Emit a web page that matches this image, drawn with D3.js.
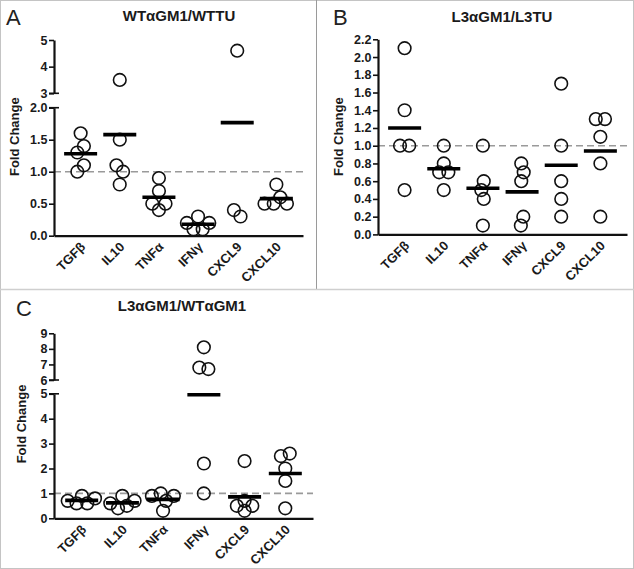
<!DOCTYPE html>
<html><head><meta charset="utf-8">
<script src="https://cdn.jsdelivr.net/npm/d3@7"></script>
<style>
body{margin:0;background:#fff}
svg{display:block}
text{font-family:"Liberation Sans",Arial,Helvetica,sans-serif}
</style>
</head><body>
<svg id="chart" width="634" height="569"></svg>
<script>
// ---------- data ----------
const categories = ["TGFβ","IL10","TNFα","IFNγ","CXCL9","CXCL10"];
const valuesA = [
  [1.4,1.6,1.3,1.1,1.0],
  [3.5,1.5,1.1,1.0,0.8],
  [0.9,0.7,0.5,0.5,0.4],
  [0.3,0.2,0.2,0.1,0.1],
  [4.6,0.3,0.4],
  [0.8,0.6,0.5,0.5,0.5]
];
const valuesB = [
  [2.1,1.4,1.0,1.0,0.5],
  [1.0,0.8,0.7,0.7,0.5],
  [1.0,0.6,0.5,0.4,0.1],
  [0.8,0.7,0.6,0.2,0.1],
  [1.7,1.0,0.6,0.4,0.2],
  [1.3,1.3,1.1,0.8,0.2]
];
const valuesC = [
  [0.9,0.8,0.7,0.6,0.6],
  [0.9,0.7,0.6,0.5,0.4],
  [1.0,0.9,0.9,0.7,0.3],
  [8.1,6.7,6.8,2.2,1.0],
  [2.3,0.7,0.5,0.5,0.3],
  [2.5,2.6,2.0,1.5,0.4]
];
const ticksA_lower = [0,0.5,1.0,1.5,2.0];
const ticksA_upper = [3,4,5];
const ticksB = [0,0.2,0.4,0.6,0.8,1.0,1.2,1.4,1.6,1.8,2.0,2.2];
const ticksC_lower = [0,1,2,3,4,5];
const ticksC_upper = [6,7,8,9];
const titles = ["WTαGM1/WTTU","L3αGM1/L3TU","L3αGM1/WTαGM1"];
const panelLetters = ["A","B","C"];
const yTitle = "Fold Change";
const referenceValue = 1;

// ---------- layout ----------
const panels = [
  {values:valuesA, title:titles[0], letter:panelLetters[0],
   x0:54, x1:303, base:235.7, letterX:6, letterY:25, titleX:179, titleY:20.5, yTitleX:18.5, yTitleY:136.7,
   segs:[{domain:[0,2], range:[235.7,107.7], ticks:ticksA_lower, fmt:d3.format(".1f")},
         {domain:[3,5], range:[93.3,40], ticks:ticksA_upper, fmt:d3.format("d")}]},
  {values:valuesB, title:titles[1], letter:panelLetters[1],
   x0:378, x1:627, base:234.4, letterX:333, letterY:25, titleX:502, titleY:22, yTitleX:342.5, yTitleY:136.7,
   segs:[{domain:[0,2.2], range:[234.4,39.3], ticks:ticksB, fmt:d3.format(".1f")}]},
  {values:valuesC, title:titles[2], letter:panelLetters[2],
   x0:54, x1:313, base:518.3, letterX:16, letterY:316, titleX:182, titleY:310.5, yTitleX:26, yTitleY:424,
   segs:[{domain:[0,5], range:[518.3,393.8], ticks:ticksC_lower, fmt:d3.format("d")},
         {domain:[6,9], range:[380,333.3], ticks:ticksC_upper, fmt:d3.format("d")}]}
];

const svg = d3.select("#chart");
svg.append("rect").attr("x",0.5).attr("y",0.5).attr("width",633).attr("height",568)
  .attr("fill","#fff").attr("stroke","#c4c4c4");
svg.append("line").attr("x1",316.5).attr("x2",316.5).attr("y1",0).attr("y2",290)
  .attr("stroke","#9a9a9a").attr("stroke-width",1);
svg.append("line").attr("x1",0).attr("x2",634).attr("y1",289.5).attr("y2",289.5)
  .attr("stroke","#cfcfcf").attr("stroke-width",1.5);

const R = 6.3;

panels.forEach(p => {
  const g = svg.append("g");
  const x = d3.scalePoint().domain(categories).range([p.x0, p.x1]).padding(0.68);
  const segScales = p.segs.map(s => d3.scaleLinear().domain(s.domain).range(s.range));
  const y = v => {
    for (let i = 0; i < p.segs.length; i++) {
      const d = p.segs[i].domain;
      if (v <= d[1] || i === p.segs.length - 1) return segScales[i](v);
    }
  };

  // letter and title
  g.append("text").attr("x",p.letterX).attr("y",p.letterY).attr("font-size",22)
    .attr("fill","#222").text(p.letter);
  g.append("text").attr("x",p.titleX).attr("y",p.titleY).attr("font-size",15)
    .attr("font-weight","bold").attr("text-anchor","middle").attr("fill","#1a1a1a").text(p.title);
  g.append("text").attr("transform",`translate(${p.yTitleX},${p.yTitleY}) rotate(-90)`)
    .attr("font-size",13).attr("font-weight","bold").attr("text-anchor","middle")
    .attr("fill","#1a1a1a").text(yTitle);

  // reference dashed line
  g.append("line").attr("x1",p.x0).attr("x2",p.x1)
    .attr("y1",y(referenceValue)).attr("y2",y(referenceValue))
    .attr("stroke","#9a9a9a").attr("stroke-width",1.6).attr("stroke-dasharray","7,4");

  // y axis segments
  p.segs.forEach((s, i) => {
    const ax = g.append("g").attr("transform",`translate(${p.x0},0)`)
      .call(d3.axisLeft(segScales[i]).tickValues(s.ticks).tickFormat(s.fmt).tickSize(5).tickSizeOuter(0));
    ax.select(".domain").attr("stroke","#111").attr("stroke-width",2.2);
    ax.selectAll(".tick line").attr("stroke","#111").attr("stroke-width",1.6);
    ax.selectAll(".tick text").attr("font-size",12.5).attr("font-weight","bold")
      .attr("fill","#1a1a1a").attr("font-family",null).attr("x",-6.5);
    if (p.segs.length > 1) {
      const capVals = [];
      if (i < p.segs.length - 1) capVals.push(s.domain[1]);
      if (i > 0) capVals.push(s.domain[0]);
      capVals.forEach(cv => {
        ax.append("line").attr("x1",-5).attr("x2",5)
          .attr("y1",segScales[i](cv)).attr("y2",segScales[i](cv))
          .attr("stroke","#111").attr("stroke-width",1.6);
      });
    }
  });

  // x axis
  const xa = g.append("g").attr("transform",`translate(0,${p.base})`)
    .call(d3.axisBottom(x).tickSize(0).tickSizeOuter(0));
  xa.select(".domain").attr("stroke","#111").attr("stroke-width",2.2);
  xa.selectAll(".tick text").attr("font-size",13).attr("font-weight","bold")
    .attr("fill","#1a1a1a").attr("font-family",null)
    .attr("text-anchor","end").attr("dy",null).attr("y",0)
    .attr("transform","translate(5,12) rotate(-45)");

  // points (beeswarm via force layout, overlap allowed) and mean lines
  categories.forEach((c, ci) => {
    const vals = p.values[ci];
    const cx = x(c);
    const nodes = vals.map((v, k) => ({v, x: cx + (k % 2 ? 0.3 : -0.3) * (k + 1), fy: y(v), y: y(v)}));
    const sim = d3.forceSimulation(nodes)
      .force("x", d3.forceX(cx).strength(0.05))
      .force("collide", d3.forceCollide(4.6).iterations(4))
      .stop();
    for (let t = 0; t < 300; t++) sim.tick();
    g.selectAll(null).data(nodes).join("circle")
      .attr("cx", d => d.x).attr("cy", d => d.fy).attr("r", R)
      .attr("fill","none").attr("stroke","#111").attr("stroke-width",1.6);
    const m = d3.mean(vals);
    g.append("line").attr("x1",cx-16.5).attr("x2",cx+16.5)
      .attr("y1",y(m)).attr("y2",y(m)).attr("stroke","#000").attr("stroke-width",3.6);
  });
});
</script>
</body></html>
